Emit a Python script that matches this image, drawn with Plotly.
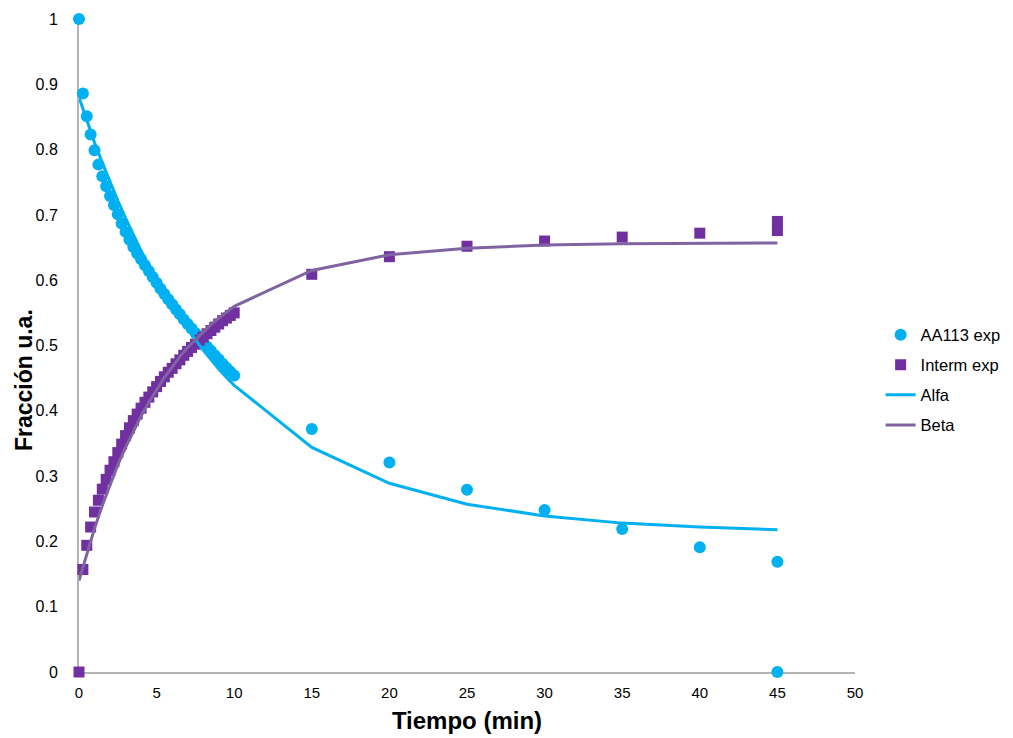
import plotly.graph_objects as go

# experimental points (time in min)
exp_time = [
    0, 0.25, 0.5, 0.75, 1.0, 1.25, 1.5, 1.75, 2.0, 2.25, 2.5, 2.75, 3.0, 3.25, 3.5, 3.75,
    4.0, 4.25, 4.5, 4.75, 5.0, 5.25, 5.5, 5.75, 6.0, 6.25, 6.5, 6.75, 7.0, 7.25, 7.5, 7.75,
    8.0, 8.25, 8.5, 8.75, 9.0, 9.25, 9.5, 9.75, 10, 15, 20, 25, 30, 35, 40, 45, 45,
]
aa113_exp = [
    1.0, 0.886, 0.851, 0.823, 0.799, 0.777, 0.759, 0.744, 0.729, 0.715, 0.701, 0.687, 0.674,
    0.662, 0.651, 0.641, 0.632, 0.623, 0.614, 0.605, 0.596, 0.587, 0.579, 0.571, 0.563, 0.555,
    0.548, 0.540, 0.533, 0.526, 0.519, 0.512, 0.505, 0.498, 0.492, 0.485, 0.479, 0.472, 0.466,
    0.460, 0.454, 0.372, 0.321, 0.279, 0.248, 0.219, 0.191, 0.169, 0.0,
]
interm_exp = [
    0.0, 0.157, 0.194, 0.222, 0.245, 0.263, 0.280, 0.295, 0.309, 0.322, 0.336, 0.349, 0.362,
    0.374, 0.385, 0.395, 0.404, 0.413, 0.421, 0.429, 0.437, 0.445, 0.452, 0.459, 0.465, 0.472,
    0.478, 0.485, 0.491, 0.497, 0.502, 0.508, 0.513, 0.518, 0.523, 0.528, 0.533, 0.538, 0.542,
    0.546, 0.550, 0.609, 0.636, 0.652, 0.660, 0.666, 0.672, 0.690, 0.676,
]

# fitted curves
fit_time = [
    0, 0.5, 1.0, 1.5, 2.0, 2.5, 3.0, 3.5, 4.0, 4.5, 5.0, 5.5, 6.0, 6.5, 7.0, 7.5,
    8.0, 8.5, 9.0, 9.5, 10, 15, 20, 25, 30, 35, 40, 45,
]
alfa = [
    0.880, 0.845, 0.811, 0.780, 0.750, 0.722, 0.695, 0.669, 0.645, 0.623, 0.601, 0.580,
    0.561, 0.543, 0.525, 0.509, 0.493, 0.478, 0.464, 0.451, 0.439, 0.344, 0.289, 0.257,
    0.239, 0.228, 0.222, 0.218,
]
beta = [
    0.140, 0.181, 0.220, 0.255, 0.287, 0.317, 0.344, 0.369, 0.392, 0.413, 0.433, 0.451,
    0.467, 0.483, 0.497, 0.509, 0.521, 0.532, 0.542, 0.551, 0.560, 0.615, 0.639, 0.649,
    0.654, 0.656, 0.656, 0.657,
]

CYAN = '#00B0F0'
PURPLE = '#7030A0'
BETA_LINE = '#8064A2'
AXIS_GREY = '#B3B3B3'
FONT = 'Liberation Sans, Arial, sans-serif'

# the page body has an 8px margin, so the figure is drawn 8px smaller
PAGE_OFFSET = 8

legend_y = [0.516, 0.470, 0.424, 0.378]


def legend_box(y):
    return dict(
        x=1.033, y=y, xanchor='left', yanchor='middle',
        font=dict(family=FONT, size=16.5, color='#000000'),
        bgcolor='rgba(0,0,0,0)', itemwidth=30, visible=True,
    )


fig = go.Figure()

fig.add_trace(go.Scatter(
    x=exp_time, y=aa113_exp, mode='markers', name='AA113 exp',
    marker=dict(symbol='circle', size=12, color=CYAN),
    cliponaxis=False, legend='legend', showlegend=True,
))
fig.add_trace(go.Scatter(
    x=exp_time, y=interm_exp, mode='markers', name='Interm exp',
    marker=dict(symbol='square', size=11, color=PURPLE),
    cliponaxis=False, legend='legend2', showlegend=True,
))
fig.add_trace(go.Scatter(
    x=fit_time, y=alfa, mode='lines', name='Alfa',
    line=dict(color=CYAN, width=3),
    legend='legend3', showlegend=True,
))
fig.add_trace(go.Scatter(
    x=fit_time, y=beta, mode='lines', name='Beta',
    line=dict(color=BETA_LINE, width=3),
    legend='legend4', showlegend=True,
))

fig.update_layout(
    width=1013 - PAGE_OFFSET,
    height=738 - PAGE_OFFSET,
    margin=dict(l=79 - PAGE_OFFSET, r=158, t=19 - PAGE_OFFSET, b=66, autoexpand=False),
    paper_bgcolor='white',
    plot_bgcolor='white',
    showlegend=True,
    font=dict(family=FONT, color='#000000'),
    legend=legend_box(legend_y[0]),
    legend2=legend_box(legend_y[1]),
    legend3=legend_box(legend_y[2]),
    legend4=legend_box(legend_y[3]),
)

# y title sits a little below the middle of the axis, as in the original
fig.add_annotation(
    text='<b>Fracción u.a.</b>', textangle=-90,
    xref='paper', yref='paper', x=-0.0709, y=0.447,
    xanchor='center', yanchor='middle', showarrow=False,
    font=dict(family=FONT, size=23, color='#000000'),
)

fig.update_xaxes(
    range=[0, 50], dtick=5, tick0=0,
    showgrid=False, zeroline=False,
    showline=True, linecolor=AXIS_GREY, linewidth=2,
    ticks='outside', ticklen=6, tickcolor='rgba(0,0,0,0)',
    tickfont=dict(family=FONT, size=15),
    title=dict(text='<b>Tiempo (min)</b>', font=dict(family=FONT, size=24), standoff=12),
    layer='below traces',
)
fig.update_yaxes(
    range=[0, 1], dtick=0.1, tick0=0,
    showgrid=False, zeroline=False,
    showline=True, linecolor=AXIS_GREY, linewidth=2,
    ticks='outside', ticklen=16, tickcolor='rgba(0,0,0,0)',
    tickfont=dict(family=FONT, size=16),
    layer='below traces',
)

fig.write_html('out.html')
